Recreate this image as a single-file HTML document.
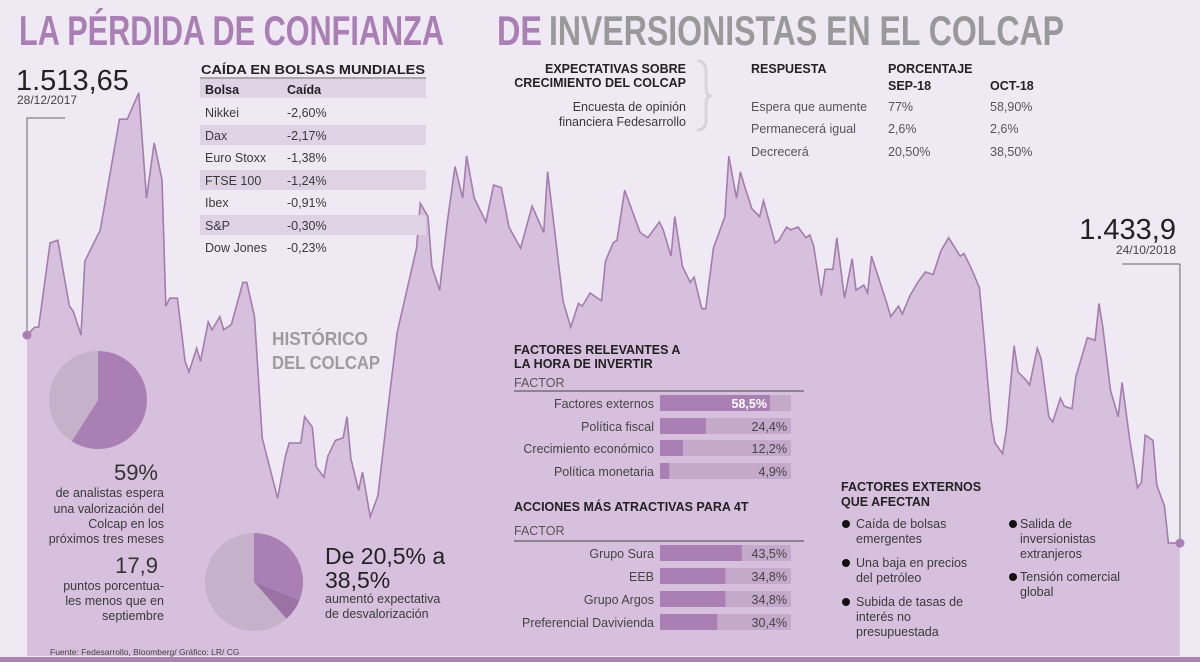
<!DOCTYPE html>
<html><head><meta charset="utf-8"><style>
html,body{margin:0;padding:0;background:#efe9f3;}
svg{display:block;font-family:"Liberation Sans",sans-serif;}
.t{font-size:12.5px;}
.b{font-weight:bold;fill:#222;font-size:12.5px;}
</style></head><body>
<svg id="c" width="1200" height="662" viewBox="0 0 1200 662">
<rect x="0" y="0" width="1200" height="662" fill="#efe9f3"/>
<g id="area"></g>
<rect x="0" y="657" width="1200" height="5" fill="#a985b3"/>
<text x="19" y="45" font-size="42" font-weight="bold" fill="#a97fb4" textLength="425" lengthAdjust="spacingAndGlyphs" font-family="Liberation Sans Narrow, Liberation Sans, sans-serif">LA PÉRDIDA DE CONFIANZA</text>
<text x="497" y="45" font-size="42" font-weight="bold" fill="#a97fb4" textLength="45" lengthAdjust="spacingAndGlyphs" font-family="Liberation Sans Narrow, Liberation Sans, sans-serif">DE</text>
<text x="549" y="45" font-size="42" font-weight="bold" fill="#999" textLength="515" lengthAdjust="spacingAndGlyphs" font-family="Liberation Sans Narrow, Liberation Sans, sans-serif">INVERSIONISTAS EN EL COLCAP</text>

<text x="16" y="90" font-size="29" fill="#222">1.513,65</text>
<text x="17" y="104" font-size="12" fill="#444">28/12/2017</text>
<text x="1176" y="239" font-size="29" fill="#222" text-anchor="end">1.433,9</text>
<text x="1176" y="254" font-size="12" fill="#444" text-anchor="end">24/10/2018</text>

<g>
<text x="201" y="74" class="b" font-size="12" textLength="224" lengthAdjust="spacingAndGlyphs">CAÍDA EN BOLSAS MUNDIALES</text>
<line x1="200" y1="78" x2="426" y2="78" stroke="#666" stroke-width="1"/>
<rect x="200" y="79" width="226" height="19" fill="#e0d2e5"/>
<rect x="200" y="125" width="226" height="20" fill="#e0d2e5"/>
<rect x="200" y="170" width="226" height="20" fill="#e0d2e5"/>
<rect x="200" y="215" width="226" height="20" fill="#e0d2e5"/>
<text x="205" y="94" class="b">Bolsa</text><text x="287" y="94" class="b">Caída</text>
<g class="t" fill="#3a3a3a">
<text x="205" y="117">Nikkei</text><text x="287" y="117">-2,60%</text>
<text x="205" y="140">Dax</text><text x="287" y="140">-2,17%</text>
<text x="205" y="162">Euro Stoxx</text><text x="287" y="162">-1,38%</text>
<text x="205" y="185">FTSE 100</text><text x="287" y="185">-1,24%</text>
<text x="205" y="207">Ibex</text><text x="287" y="207">-0,91%</text>
<text x="205" y="230">S&amp;P</text><text x="287" y="230">-0,30%</text>
<text x="205" y="252">Dow Jones</text><text x="287" y="252">-0,23%</text>
</g></g>

<g>
<text x="686" y="73" class="b" font-size="12" text-anchor="end">EXPECTATIVAS SOBRE</text>
<text x="686" y="87" class="b" font-size="12" text-anchor="end">CRECIMIENTO DEL COLCAP</text>
<text x="686" y="111" class="t" fill="#3a3a3a" text-anchor="end">Encuesta de opinión</text>
<text x="686" y="126" class="t" fill="#3a3a3a" text-anchor="end">financiera Fedesarrollo</text>
<path d="M697,61 Q706,61 706,72 L706,88 Q706,96 712,96 Q706,96 706,104 L706,120 Q706,130 697,130" fill="none" stroke="#d8d2dc" stroke-width="3"/>
<text x="751" y="73" class="b" font-size="12">RESPUESTA</text>
<text x="888" y="73" class="b" font-size="12">PORCENTAJE</text>
<text x="888" y="90" class="b" font-size="12">SEP-18</text>
<text x="990" y="90" class="b" font-size="12">OCT-18</text>
<g class="t" fill="#555">
<text x="751" y="111">Espera que aumente</text><text x="888" y="111">77%</text><text x="990" y="111">58,90%</text>
<text x="751" y="133">Permanecerá igual</text><text x="888" y="133">2,6%</text><text x="990" y="133">2,6%</text>
<text x="751" y="156">Decrecerá</text><text x="888" y="156">20,50%</text><text x="990" y="156">38,50%</text>
</g></g>

<text x="272" y="345" font-size="18" font-weight="bold" fill="#9c9c9c" textLength="96" lengthAdjust="spacingAndGlyphs">HISTÓRICO</text>
<text x="272" y="369" font-size="18" font-weight="bold" fill="#9c9c9c" textLength="108" lengthAdjust="spacingAndGlyphs">DEL COLCAP</text>

<g id="pies"></g>

<g>
<text x="158" y="480" font-size="22" fill="#333" text-anchor="end">59%</text>
<g class="t" fill="#3a3a3a" text-anchor="end">
<text x="164" y="497">de analistas espera</text>
<text x="164" y="513">una valorización del</text>
<text x="164" y="528">Colcap en los</text>
<text x="164" y="543">próximos tres meses</text>
<text x="164" y="590">puntos porcentua-</text>
<text x="164" y="605">les menos que en</text>
<text x="164" y="620">septiembre</text>
</g>
<text x="158" y="573" font-size="22" fill="#333" text-anchor="end">17,9</text>
<text x="325" y="564" font-size="23" fill="#222">De 20,5% a</text>
<text x="325" y="588" font-size="23" fill="#222">38,5%</text>
<text x="325" y="603" class="t" fill="#3a3a3a">aumentó expectativa</text>
<text x="325" y="618" class="t" fill="#3a3a3a">de desvalorización</text>
<text x="50" y="655" font-size="8.5" fill="#444">Fuente: Fedesarrollo, Bloomberg/ Gráfico: LR/ CG</text>
</g>

<g>
<text x="514" y="354" class="b">FACTORES RELEVANTES A</text>
<text x="514" y="368" class="b">LA HORA DE INVERTIR</text>
<text x="514" y="387" class="t" fill="#555">FACTOR</text>
<line x1="514" y1="391" x2="804" y2="391" stroke="#444"/>
<g id="bars1"></g>
<text x="514" y="511" class="b">ACCIONES MÁS ATRACTIVAS PARA 4T</text>
<text x="514" y="535" class="t" fill="#555">FACTOR</text>
<line x1="514" y1="541" x2="804" y2="541" stroke="#444"/>
<g id="bars2"></g>
</g>

<g>
<text x="841" y="491" class="b">FACTORES EXTERNOS</text>
<text x="841" y="506" class="b">QUE AFECTAN</text>
<g fill="#111"><circle cx="846" cy="524" r="4"/><circle cx="846" cy="563" r="4"/><circle cx="846" cy="602" r="4"/><circle cx="1013" cy="524" r="4"/><circle cx="1013" cy="577" r="4"/></g>
<g class="t" fill="#3a3a3a">
<text x="856" y="528">Caída de bolsas</text><text x="856" y="543">emergentes</text>
<text x="856" y="567">Una baja en precios</text><text x="856" y="582">del petróleo</text>
<text x="856" y="606">Subida de tasas de</text><text x="856" y="621">interés no</text><text x="856" y="636">presupuestada</text>
<text x="1020" y="528">Salida de</text><text x="1020" y="543">inversionistas</text><text x="1020" y="558">extranjeros</text>
<text x="1020" y="581">Tensión comercial</text><text x="1020" y="596">global</text>
</g></g>
</svg>
<script>
var days=[0,2,3,6,8,11,12,14,15,19,24,26,29,31,33,35,36,37,39,41,42,44,45,47,48,50,51,53,56,57,59,61,65,67,68,71,72,74,75,77,78,80,82,83,84,86,87,89,91,94,96,101,102,104,105,107,109,111,113,114,116,119,121,123,125,128,131,134,135,139,141,143,144,146,
149,150,152,153,155,159,161,164,165,167,168,170,172,173,175,176,178,181,182,184,185,186,188,190,191,194,195,197,198,200,202,203,204,206,207,209,210,212,214,215,217,218,219,221,223,224,226,227,229,231,233,235,237,239,242,243,245,247,248,250,251,253,254,256,257,259,260,262,263,265,266,268,269,271,272,275,277,278,279,281,283,284,286,288,289,290,292,293,295,296,299];
var colcap=[1514,1517,1517,1549,1550,1525,1523,1514,1542,1554,1596,1596,1606,1566,1587,1573,1525,1528,1528,1504,1500,1509,1504,1519,1516,1521,1516,1518,1534,1534,1521,1475,1452,1468,1473,1473,1483,1479,1464,1460,1468,1474,1475,1483,1467,1455,1462,1445,1453,1491,1515,1547,1564,1559,1540,1531,1557,1578,1566,1582,1566,1557,1571,1570,1555,1547,1563,1553,1576,1527,1517,1526,1525,1530,
1527,1542,1549,1550,1569,1553,1551,1557,1554,1544,1559,1540,1534,1536,1524,1524,1547,1559,1582,1566,1576,1571,1562,1559,1565,1549,1550,1555,1554,1555,1551,1552,1548,1529,1539,1539,1551,1528,1543,1531,1533,1530,1544,1535,1526,1521,1525,1522,1529,1534,1538,1537,1546,1551,1544,1545,1539,1532,1516,1482,1473,1469,1478,1510,1500,1497,1495,1509,1505,1483,1481,1490,1487,1486,1498,1513,1512,1526,1517,1493,1483,1496,1474,1456,1458,1476,1474,1457,1449,1435,1435];
var pie1=[59,41];
var pie2=[31,7.5,61.5];
var factorNames=['Factores externos','Política fiscal','Crecimiento económico','Política monetaria'];
var factorVals=[58.5,24.4,12.2,4.9];
var factorTxt=['58,5%','24,4%','12,2%','4,9%'];
var accNames=['Grupo Sura','EEB','Grupo Argos','Preferencial Davivienda'];
var accVals=[43.5,34.8,34.8,30.4];
var accTxt=['43,5%','34,8%','34,8%','30,4%'];

var NS='http://www.w3.org/2000/svg';
function mk(t,a,p){var e=document.createElementNS(NS,t);for(var k in a)e.setAttribute(k,a[k]);p.appendChild(e);return e;}
function xS(d){return 27+d*3.856;}
function yS(v){return 336-(v-1513.65)*2.633;}
var area=document.getElementById('area');
var pts=days.map(function(d,i){return xS(d).toFixed(1)+','+yS(colcap[i]).toFixed(1);});
var fill=mk('path',{d:'M'+xS(days[0])+',656 L'+pts.join(' L')+' L'+xS(days[days.length-1])+',656 Z',fill:'#d6c0dd'},area);


var ln=mk('path',{d:'M'+pts.join(' L'),fill:'none',stroke:'#a47cae','stroke-width':1.6},area);


var x0=xS(days[0]),y0=yS(colcap[0]),x1=xS(days[days.length-1]),y1=yS(colcap[colcap.length-1]);
var l1=mk('path',{d:'M'+x0+','+y0+' L'+x0+',118 L65,118',fill:'none',stroke:'#666','stroke-width':1},area);


var l2=mk('path',{d:'M'+x1+','+y1+' L'+x1+',264 L1122,264',fill:'none',stroke:'#666','stroke-width':1},area);


var d1=mk('circle',{cx:x0,cy:y0,r:4.5,fill:'#a97fb4'},area);


var d2=mk('circle',{cx:x1,cy:y1,r:4.5,fill:'#a97fb4'},area);



function pie(g,cx,cy,rx,ry,vals,cols,name){
  var tot=vals.reduce(function(a,b){return a+b;},0),a=0;
  vals.forEach(function(v,i){
    var a0=a/tot*2*Math.PI,a1=(a+v)/tot*2*Math.PI;a+=v;
    var xa=cx+rx*Math.sin(a0),ya=cy-ry*Math.cos(a0),xb=cx+rx*Math.sin(a1),yb=cy-ry*Math.cos(a1);
    var s=mk('path',{d:'M'+cx+','+cy+' L'+xa+','+ya+' A'+rx+','+ry+' 0 '+(a1-a0>Math.PI?1:0)+' 1 '+xb+','+yb+' Z',fill:cols[i]},g);
    
    
  });
}
var pg=document.getElementById('pies');
pie(pg,98,400,49,49,pie1,['#a97fb4','#c5b1ca'],'pie-analistas');
pie(pg,254,582,49,49,pie2,['#a97fb4','#9b72a3','#c5b1ca'],'pie-desvalorizacion');

function bars(gid,names,vals,txt,ys,first){
  var g=document.getElementById(gid);
  names.forEach(function(n,i){
    var y=ys[i];
    var lb=mk('text',{x:654,y:y+5,'text-anchor':'end','font-size':'12.5',fill:'#444'},g);lb.textContent=n;
    
    
    var tr=mk('rect',{x:660,y:y-8,width:131,height:16,fill:'#c5a9cb'},g);
    
    
    var r=mk('rect',{x:660,y:y-8,width:vals[i]*1.88,height:16,fill:'#a97fb4'},g);
    
    
    var white=first&&i===0;
    var t=mk('text',{x:white?660+vals[i]*1.88-3:787,y:y+5,'text-anchor':'end','font-size':'12.5',fill:white?'#ffffff':'#444','font-weight':white?'bold':'normal'},g);t.textContent=txt[i];
    
    
  });
}
bars('bars1',factorNames,factorVals,factorTxt,[403,426,448,471],true);
bars('bars2',accNames,accVals,accTxt,[553,576,599,622],false);
</script>
</body></html>
